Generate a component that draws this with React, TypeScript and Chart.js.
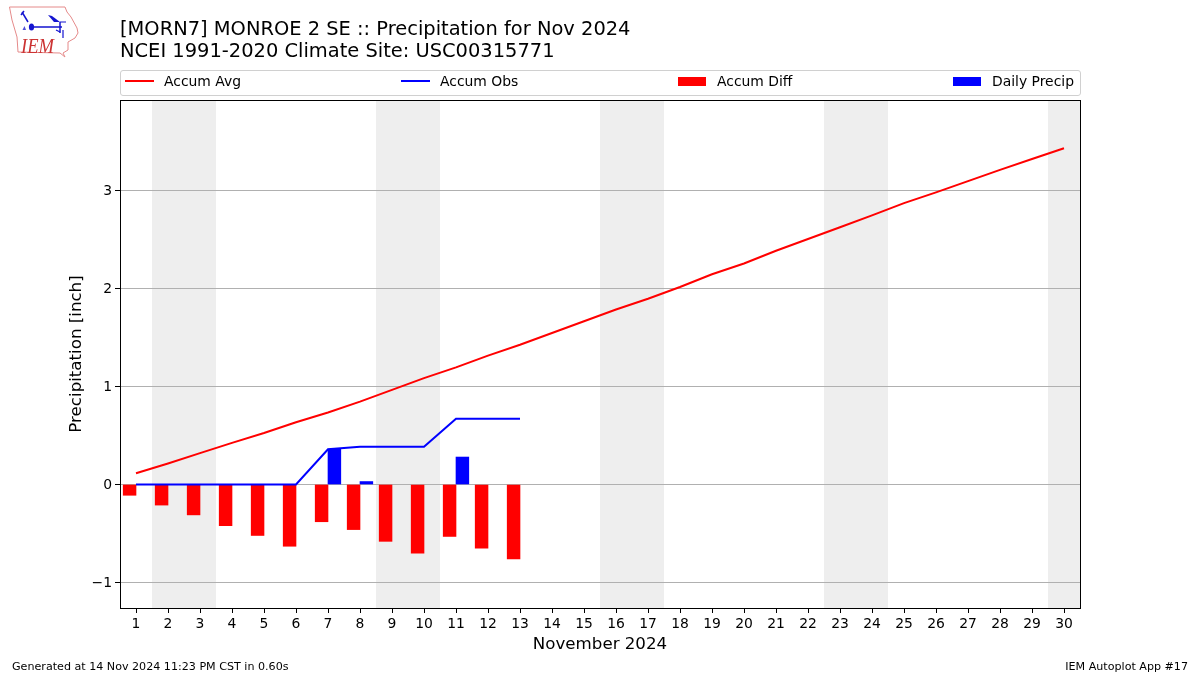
import React, { useEffect, useRef } from "react";
import { Chart, registerables } from "chart.js";

Chart.register(...registerables);

const days = Array.from({ length: 30 }, (_, i) => String(i + 1));
const accumAvg = [0.115, 0.215, 0.32, 0.425, 0.525, 0.635, 0.735, 0.845, 0.965, 1.085, 1.195, 1.315, 1.425, 1.545, 1.665, 1.785, 1.895, 2.015, 2.145, 2.255, 2.385, 2.505, 2.625, 2.745, 2.87, 2.98, 3.095, 3.21, 3.32, 3.43];
const accumObs = [0, 0, 0, 0, 0, 0, 0.36, 0.385, 0.385, 0.385, 0.67, 0.67, 0.67];
const accumDiff = [-0.11, -0.21, -0.31, -0.42, -0.52, -0.63, -0.38, -0.46, -0.58, -0.7, -0.53, -0.65, -0.76];
const dailyPrecip = [null, null, null, null, null, null, 0.36, 0.03, null, null, 0.28, null, null];
const yTicks = [-1, 0, 1, 2, 3];
const weekendSpans = [[2, 3], [9, 10], [16, 17], [23, 24], [30, 30.5]];

const titleLines = ["[MORN7] MONROE 2 SE :: Precipitation for Nov 2024", "NCEI 1991-2020 Climate Site: USC00315771"];
const xAxisTitle = "November 2024";
const yAxisTitle = "Precipitation [inch]";
const footerLeft = "Generated at 14 Nov 2024 11:23 PM CST in 0.60s";
const footerRight = "IEM Autoplot App #17";

const FONT = "'DejaVu Sans', sans-serif";

const backdrop = {
  id: "backdrop",
  beforeDraw(chart: any) {
    const { ctx, chartArea: a, scales } = chart;
    const x = scales.x;
    const step = x.getPixelForValue(1) - x.getPixelForValue(0);
    ctx.save();
    ctx.fillStyle = "#eeeeee";
    for (const [from, to] of weekendSpans) {
      const left = x.getPixelForValue(from - 1) - step / 2;
      const right = to === 30.5 ? a.right : x.getPixelForValue(to - 1) + step / 2;
      ctx.fillRect(left, a.top, right - left, a.bottom - a.top);
    }
    ctx.restore();
  },
  afterDraw(chart: any) {
    const { ctx, chartArea: a } = chart;
    ctx.save();
    ctx.strokeStyle = "#000";
    ctx.lineWidth = 1;
    ctx.strokeRect(Math.round(a.left) + 0.5, Math.round(a.top) + 0.5, Math.round(a.right - a.left), Math.round(a.bottom - a.top));
    ctx.restore();
  },
};

const legendItems = [
  { label: "Accum Avg", color: "#ff0000", kind: "line", x: 125, tx: 164 },
  { label: "Accum Obs", color: "#0000ff", kind: "line", x: 401, tx: 440 },
  { label: "Accum Diff", color: "#ff0000", kind: "box", x: 678, tx: 717 },
  { label: "Daily Precip", color: "#0000ff", kind: "box", x: 953, tx: 992 },
];

function Logo() {
  return (
    <svg width="80" height="60" viewBox="0 0 80 60" style={{ position: "absolute", left: 0, top: 0 }}>
      <path d="M9.5 7 L65 7 L67 12 L71 17 L77 28 L78 33 L75 38 L68 42 L68 50 L63 53 L65 57 L60 53 L18 52 L17 37 L12 20 Z" fill="none" stroke="#e58a8a" strokeWidth="1" />
      <path d="M32 27 L62 27 M60 22 L60 33 M22 12 L28 22 M21 15 L24 11" fill="none" stroke="#1515d0" strokeWidth="1.5" />
      <path d="M63 30 L63 38 M56 30 L60 32 M60 22 L66 22" fill="none" stroke="#1515d0" strokeWidth="1.2" />
      <ellipse cx="31.5" cy="27" rx="2.6" ry="3.6" fill="#1515d0" />
      <path d="M48 15 L52 16 L60 22 L54 22 Z" fill="#1515d0" />
      <path d="M22.5 30 L26 30 L24.5 26 Z" fill="#5050d8" />
      <text x="21" y="52.5" fontFamily="'Liberation Serif', serif" fontStyle="italic" fontSize="22" textLength="33" lengthAdjust="spacingAndGlyphs" fill="#cc3333">IEM</text>
    </svg>
  );
}

export default function App() {
  const ref = useRef<HTMLCanvasElement | null>(null);
  useEffect(() => {
    document.body.style.margin = "0";
    const chart = new Chart(ref.current as HTMLCanvasElement, {
      type: "bar",
      data: {
        labels: days,
        datasets: [
          { type: "line", label: "Accum Avg", data: accumAvg, borderColor: "#ff0000", borderWidth: 2, pointRadius: 0, tension: 0, order: 0 },
          { type: "line", label: "Accum Obs", data: accumObs, borderColor: "#0000ff", borderWidth: 2, pointRadius: 0, tension: 0, order: 0 },
          { type: "bar", label: "Accum Diff", data: accumDiff, backgroundColor: "#ff0000", barThickness: 12.8, order: 1 },
          { type: "bar", label: "Daily Precip", data: dailyPrecip, backgroundColor: "#0000ff", barThickness: 12.8, order: 1 },
        ],
      } as any,
      options: {
        responsive: false,
        animation: false,
        layout: { padding: { left: 67, right: 120, top: 19, bottom: 14 } },
        plugins: {
          legend: { display: false },
          tooltip: { enabled: false },
          title: {
            display: true,
            text: titleLines,
            align: "start",
            fullSize: false,
            color: "#000",
            font: { family: FONT, size: 19.45, weight: "normal", lineHeight: 1.13 },
            padding: { top: 0, bottom: 37 },
          },
        },
        scales: {
          x: {
            type: "category",
            offset: true,
            grid: { display: true, offset: false, drawOnChartArea: false, drawTicks: true, tickLength: 5, tickColor: "#000" },
            border: { display: false },
            ticks: { color: "#000", font: { family: FONT, size: 13.9 }, padding: 3, maxRotation: 0, autoSkip: false },
            title: { display: true, text: xAxisTitle, color: "#000", font: { family: FONT, size: 16.67 }, padding: { top: 0, bottom: 6 } },
            afterFit(s: any) { s.height = 53; },
          },
          y: {
            type: "linear",
            min: -1.26,
            max: 3.923,
            afterBuildTicks(s: any) { s.ticks = yTicks.map((value) => ({ value })); },
            grid: { color: "#b0b0b0", lineWidth: 1, tickLength: 5, tickColor: "#000" },
            border: { display: false },
            ticks: {
              color: "#000",
              font: { family: FONT, size: 13.9 },
              padding: 3,
              labelOffset: 1,
              callback: (v: any) => String(v).replace("-", "\u2212"),
            },
            title: { display: true, text: yAxisTitle, color: "#000", font: { family: FONT, size: 16.67 }, padding: { top: 0, bottom: 0 } },
            afterFit(s: any) { s.width = 53; },
          },
        },
      },
      plugins: [backdrop],
    } as any);
    return () => chart.destroy();
  }, []);

  const text: React.CSSProperties = { position: "absolute", fontFamily: FONT, color: "#000", whiteSpace: "nowrap", lineHeight: 1 };
  return (
    <div style={{ position: "relative", width: 1200, height: 675, overflow: "hidden", background: "#fff" }}>
      <canvas ref={ref} width={1200} height={675} style={{ position: "absolute", left: 0, top: 0 }} />
      <Logo />
      <div style={{ position: "absolute", left: 120, top: 70, width: 959, height: 24, border: "1px solid #d0d0d0", borderRadius: 3 }} />
      {legendItems.map((it) => (
        <React.Fragment key={it.label}>
          <div
            style={{
              position: "absolute",
              left: it.x,
              top: it.kind === "line" ? 80 : 77,
              width: it.kind === "line" ? 29 : 28,
              height: it.kind === "line" ? 2 : 9,
              background: it.color,
            }}
          />
          <span style={{ ...text, left: it.tx, top: 75, fontSize: 13.9 }}>{it.label}</span>
        </React.Fragment>
      ))}
      <span style={{ ...text, left: 12, top: 661, fontSize: 11.12 }}>{footerLeft}</span>
      <span style={{ ...text, right: 12, top: 661, fontSize: 11.12 }}>{footerRight}</span>
    </div>
  );
}
